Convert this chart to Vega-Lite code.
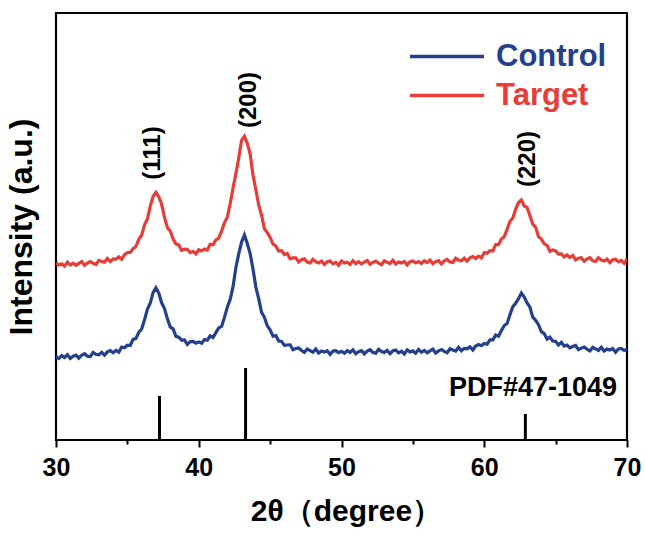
{
  "$schema": "https://vega.github.io/schema/vega-lite/v6.json",
  "width": 571,
  "height": 427,
  "autosize": {"type": "none"},
  "padding": {"left": 56, "top": 13, "right": 18, "bottom": 94},
  "background": "white",
  "config": {
    "view": {"stroke": "black", "strokeWidth": 2.2},
    "font": "Liberation Sans",
    "axis": {"grid": false}
  },
  "datasets": {
    "xrd": [
      {"x":30.0,"Control":83.4,"Target":177.0},{"x":30.2,"Control":81.5,"Target":175.1},{"x":30.4,"Control":84.4,"Target":176.1},{"x":30.6,"Control":82.6,"Target":173.9},{"x":30.8,"Control":85.3,"Target":177.8},
      {"x":31.0,"Control":81.6,"Target":175.0},{"x":31.2,"Control":83.8,"Target":176.9},{"x":31.4,"Control":84.9,"Target":174.8},{"x":31.6,"Control":81.8,"Target":176.7},{"x":31.8,"Control":84.8,"Target":178.4},
      {"x":32.0,"Control":86.3,"Target":174.7},{"x":32.2,"Control":83.8,"Target":176.9},{"x":32.4,"Control":83.4,"Target":178.5},{"x":32.6,"Control":87.6,"Target":176.7},{"x":32.8,"Control":85.7,"Target":175.5},
      {"x":33.0,"Control":85.2,"Target":179.6},{"x":33.2,"Control":87.6,"Target":178.6},{"x":33.4,"Control":84.8,"Target":177.8},{"x":33.6,"Control":88.1,"Target":181.5},{"x":33.8,"Control":89.4,"Target":178.4},
      {"x":34.0,"Control":87.3,"Target":181.0},{"x":34.2,"Control":89.6,"Target":180.8},{"x":34.4,"Control":87.8,"Target":183.2},{"x":34.6,"Control":93.0,"Target":180.7},{"x":34.8,"Control":92.3,"Target":185.3},
      {"x":35.0,"Control":94.8,"Target":187.5},{"x":35.2,"Control":94.4,"Target":187.5},{"x":35.4,"Control":100.6,"Target":191.3},{"x":35.6,"Control":101.6,"Target":193.4},{"x":35.8,"Control":107.7,"Target":200.7},
      {"x":36.0,"Control":111.0,"Target":204.7},{"x":36.2,"Control":120.1,"Target":215.1},{"x":36.4,"Control":130.7,"Target":220.9},{"x":36.6,"Control":136.7,"Target":233.6},{"x":36.8,"Control":147.3,"Target":243.5},
      {"x":37.0,"Control":152.2,"Target":247.7},{"x":37.2,"Control":146.9,"Target":243.3},{"x":37.4,"Control":137.2,"Target":235.7},{"x":37.6,"Control":131.4,"Target":222.6},{"x":37.8,"Control":121.4,"Target":212.6},
      {"x":38.0,"Control":113.1,"Target":209.0},{"x":38.2,"Control":111.2,"Target":201.1},{"x":38.4,"Control":103.6,"Target":196.1},{"x":38.6,"Control":102.8,"Target":195.1},{"x":38.8,"Control":99.9,"Target":189.6},
      {"x":39.0,"Control":100.0,"Target":190.9},{"x":39.2,"Control":95.5,"Target":190.7},{"x":39.4,"Control":98.3,"Target":187.4},{"x":39.6,"Control":98.7,"Target":188.7},{"x":39.8,"Control":96.8,"Target":186.1},
      {"x":40.0,"Control":98.1,"Target":190.2},{"x":40.2,"Control":96.8,"Target":189.0},{"x":40.4,"Control":100.4,"Target":190.9},{"x":40.6,"Control":99.8,"Target":190.0},{"x":40.8,"Control":104.1,"Target":195.7},
      {"x":41.0,"Control":102.5,"Target":195.2},{"x":41.2,"Control":107.4,"Target":200.1},{"x":41.4,"Control":112.1,"Target":201.9},{"x":41.6,"Control":113.6,"Target":208.9},{"x":41.8,"Control":122.6,"Target":217.1},
      {"x":42.0,"Control":132.8,"Target":222.9},{"x":42.2,"Control":140.5,"Target":236.2},{"x":42.4,"Control":153.1,"Target":251.7},{"x":42.6,"Control":172.3,"Target":266.3},{"x":42.8,"Control":186.1,"Target":282.0},
      {"x":43.0,"Control":197.9,"Target":299.6},{"x":43.2,"Control":204.9,"Target":303.6},{"x":43.4,"Control":196.5,"Target":296.7},{"x":43.6,"Control":186.5,"Target":286.1},{"x":43.8,"Control":171.1,"Target":265.0},
      {"x":44.0,"Control":152.9,"Target":250.3},{"x":44.2,"Control":141.1,"Target":234.9},{"x":44.4,"Control":127.7,"Target":224.8},{"x":44.6,"Control":122.7,"Target":211.2},{"x":44.8,"Control":114.2,"Target":207.4},
      {"x":45.0,"Control":110.1,"Target":202.5},{"x":45.2,"Control":103.8,"Target":196.1},{"x":45.4,"Control":104.5,"Target":193.9},{"x":45.6,"Control":98.9,"Target":189.0},{"x":45.8,"Control":98.6,"Target":189.4},
      {"x":46.0,"Control":94.6,"Target":185.5},{"x":46.2,"Control":95.0,"Target":186.5},{"x":46.4,"Control":95.2,"Target":181.2},{"x":46.6,"Control":90.3,"Target":182.2},{"x":46.8,"Control":91.5,"Target":182.2},
      {"x":47.0,"Control":92.0,"Target":178.0},{"x":47.2,"Control":89.5,"Target":180.3},{"x":47.4,"Control":87.6,"Target":181.1},{"x":47.6,"Control":91.0,"Target":177.9},{"x":47.8,"Control":89.3,"Target":177.0},
      {"x":48.0,"Control":87.8,"Target":180.6},{"x":48.2,"Control":90.9,"Target":178.2},{"x":48.4,"Control":87.0,"Target":177.1},{"x":48.6,"Control":88.9,"Target":178.9},{"x":48.8,"Control":87.9,"Target":175.5},
      {"x":49.0,"Control":89.2,"Target":178.2},{"x":49.2,"Control":85.6,"Target":178.9},{"x":49.4,"Control":88.9,"Target":176.1},{"x":49.6,"Control":89.4,"Target":177.6},{"x":49.8,"Control":87.4,"Target":174.8},
      {"x":50.0,"Control":88.7,"Target":179.0},{"x":50.2,"Control":86.7,"Target":176.9},{"x":50.4,"Control":89.4,"Target":177.8},{"x":50.6,"Control":87.6,"Target":175.6},{"x":50.8,"Control":90.1,"Target":179.4},
      {"x":51.0,"Control":86.2,"Target":176.4},{"x":51.2,"Control":88.4,"Target":178.3},{"x":51.4,"Control":89.3,"Target":176.1},{"x":51.6,"Control":86.1,"Target":177.9},{"x":51.8,"Control":88.9,"Target":179.5},
      {"x":52.0,"Control":90.3,"Target":175.7},{"x":52.2,"Control":87.5,"Target":177.7},{"x":52.4,"Control":86.9,"Target":178.9},{"x":52.6,"Control":90.7,"Target":176.9},{"x":52.8,"Control":88.5,"Target":175.4},
      {"x":53.0,"Control":87.6,"Target":179.2},{"x":53.2,"Control":89.6,"Target":177.7},{"x":53.4,"Control":86.3,"Target":176.4},{"x":53.6,"Control":89.2,"Target":179.7},{"x":53.8,"Control":89.9,"Target":176.0},
      {"x":54.0,"Control":87.2,"Target":178.0},{"x":54.2,"Control":88.7,"Target":177.1},{"x":54.4,"Control":86.0,"Target":178.6},{"x":54.6,"Control":90.1,"Target":175.1},{"x":54.8,"Control":88.1,"Target":178.4},
      {"x":55.0,"Control":89.1,"Target":179.0},{"x":55.2,"Control":86.8,"Target":177.1},{"x":55.4,"Control":90.6,"Target":178.4},{"x":55.6,"Control":87.7,"Target":176.5},{"x":55.8,"Control":89.5,"Target":179.2},
      {"x":56.0,"Control":87.3,"Target":177.4},{"x":56.2,"Control":89.2,"Target":180.0},{"x":56.4,"Control":90.8,"Target":176.2},{"x":56.6,"Control":87.0,"Target":178.4},{"x":56.8,"Control":89.1,"Target":179.3},
      {"x":57.0,"Control":90.5,"Target":176.1},{"x":57.2,"Control":88.6,"Target":179.1},{"x":57.4,"Control":87.3,"Target":180.5},{"x":57.6,"Control":91.3,"Target":177.9},{"x":57.8,"Control":90.0,"Target":177.5},
      {"x":58.0,"Control":89.0,"Target":181.7},{"x":58.2,"Control":92.6,"Target":179.8},{"x":58.4,"Control":89.2,"Target":179.2},{"x":58.6,"Control":91.6,"Target":181.7},{"x":58.8,"Control":91.1,"Target":178.8},
      {"x":59.0,"Control":93.1,"Target":182.2},{"x":59.2,"Control":90.1,"Target":183.5},{"x":59.4,"Control":94.0,"Target":181.5},{"x":59.6,"Control":95.4,"Target":183.8},{"x":59.8,"Control":94.3,"Target":182.1},
      {"x":60.0,"Control":96.6,"Target":187.4},{"x":60.2,"Control":95.9,"Target":186.7},{"x":60.4,"Control":100.1,"Target":189.3},{"x":60.6,"Control":100.1,"Target":189.0},{"x":60.8,"Control":104.9,"Target":195.3},
      {"x":61.0,"Control":103.8,"Target":195.3},{"x":61.2,"Control":109.4,"Target":200.9},{"x":61.4,"Control":114.5,"Target":203.2},{"x":61.6,"Control":116.4,"Target":210.6},{"x":61.8,"Control":125.3,"Target":218.7},
      {"x":62.0,"Control":133.3,"Target":222.0},{"x":62.2,"Control":136.8,"Target":230.9},{"x":62.4,"Control":141.2,"Target":237.5},{"x":62.6,"Control":146.9,"Target":240.1},{"x":62.8,"Control":142.9,"Target":234.0},
      {"x":63.0,"Control":137.1,"Target":232.6},{"x":63.2,"Control":132.8,"Target":224.4},{"x":63.4,"Control":122.8,"Target":215.8},{"x":63.6,"Control":119.7,"Target":212.6},{"x":63.8,"Control":115.3,"Target":203.4},
      {"x":64.0,"Control":108.4,"Target":200.9},{"x":64.2,"Control":106.4,"Target":196.2},{"x":64.4,"Control":100.9,"Target":194.7},{"x":64.6,"Control":102.9,"Target":188.7},{"x":64.8,"Control":99.0,"Target":190.1},
      {"x":65.0,"Control":98.5,"Target":189.1},{"x":65.2,"Control":95.0,"Target":185.8},{"x":65.4,"Control":97.7,"Target":186.0},{"x":65.6,"Control":94.0,"Target":183.1},{"x":65.8,"Control":95.0,"Target":185.0},
      {"x":66.0,"Control":92.2,"Target":182.5},{"x":66.2,"Control":93.5,"Target":184.5},{"x":66.4,"Control":94.5,"Target":180.1},{"x":66.6,"Control":90.3,"Target":181.8},{"x":66.8,"Control":91.9,"Target":182.2},
      {"x":67.0,"Control":93.0,"Target":178.7},{"x":67.2,"Control":90.7,"Target":181.2},{"x":67.4,"Control":89.0,"Target":182.3},{"x":67.6,"Control":92.6,"Target":179.2},{"x":67.8,"Control":91.1,"Target":178.5},
      {"x":68.0,"Control":89.6,"Target":182.2},{"x":68.2,"Control":92.8,"Target":179.9},{"x":68.4,"Control":89.0,"Target":178.9},{"x":68.6,"Control":90.9,"Target":180.8},{"x":68.8,"Control":90.0,"Target":177.4},
      {"x":69.0,"Control":91.4,"Target":180.2},{"x":69.2,"Control":87.7,"Target":180.8},{"x":69.4,"Control":91.0,"Target":178.1},{"x":69.6,"Control":91.5,"Target":179.5},{"x":69.8,"Control":89.5,"Target":176.8},
      {"x":70.0,"Control":90.7,"Target":180.9}
    ],
    "sticks": [
      {"x": 37.25, "h": 44},
      {"x": 43.28, "h": 72},
      {"x": 62.88, "h": 26}
    ],
    "peaks": [
      {"x": 36.8, "y": 287, "label": "(111)"},
      {"x": 43.55, "y": 340, "label": "(200)"},
      {"x": 63.05, "y": 281, "label": "(220)"}
    ],
    "ref": [
      {"x": 69.3, "y": 44, "label": "PDF#47-1049"}
    ]
  },
  "layer": [
    {
      "data": {"name": "xrd"},
      "transform": [{"fold": ["Control", "Target"], "as": ["series", "v"]}],
      "mark": {"type": "line", "strokeWidth": 3.2, "clip": true},
      "encoding": {
        "x": {
          "field": "x", "type": "quantitative",
          "title": "2θ（degree）",
          "scale": {"domain": [30, 70], "nice": false, "zero": false},
          "axis": {
            "title": "2θ（degree）",
            "values": [30, 35, 40, 45, 50, 55, 60, 65, 70],
            "labelExpr": "datum.value % 10 === 0 ? datum.label : ''",
            "domain": false,
            "ticks": true,
            "tickColor": "black",
            "tickWidth": 2,
            "tickSize": {"condition": {"test": "datum.value % 10 === 0", "value": 7}, "value": 4},
            "labelFont": "Liberation Sans",
            "labelFontWeight": "bold",
            "labelFontSize": 25,
            "labelColor": "black",
            "labelPadding": 8,
            "labelFlush": false,
            "labelOverlap": false,
            "labelBound": false,
            "titleFont": "Liberation Sans",
            "titleFontWeight": "bold",
            "titleFontSize": 30,
            "titleColor": "black",
            "titlePadding": 16,
            "titleX": 290
          }
        },
        "y": {
          "field": "v", "type": "quantitative",
          "title": "Intensity (a.u.)",
          "scale": {"domain": [0, 427], "nice": false, "zero": false},
          "axis": {
            "title": "Intensity (a.u.)",
            "labels": false,
            "ticks": false,
            "domain": false,
            "titleFont": "Liberation Sans",
            "titleFontWeight": "bold",
            "titleFontSize": 32,
            "titleColor": "black",
            "titlePadding": 18
          }
        },
        "color": {
          "field": "series", "type": "nominal",
          "scale": {"domain": ["Control", "Target"], "range": ["#243f8c", "#e53d38"]},
          "legend": {
            "orient": "none",
            "legendX": 405,
            "legendY": 28,
            "title": null,
            "padding": 0,
            "symbolType": "M-8.87,0H1",
            "symbolSize": 225,
            "symbolStrokeWidth": 3.5,
            "labelFont": "Liberation Sans",
            "labelFontWeight": "bold",
            "labelFontSize": 31,
            "labelOffset": 4,
            "rowPadding": 7,
            "encode": {"labels": {"update": {"fill": {"scale": "color", "field": "value"}}}}
          }
        }
      }
    },
    {
      "data": {"name": "sticks"},
      "mark": {"type": "rule", "color": "black", "strokeWidth": 3},
      "encoding": {
        "x": {"field": "x", "type": "quantitative", "title": "2θ（degree）"},
        "y": {"field": "h", "type": "quantitative", "title": "Intensity (a.u.)"},
        "y2": {"datum": 0}
      }
    },
    {
      "data": {"name": "peaks"},
      "mark": {"type": "text", "angle": 270, "align": "center", "baseline": "middle", "font": "Liberation Sans", "fontWeight": "bold", "fontSize": 24, "color": "black"},
      "encoding": {
        "x": {"field": "x", "type": "quantitative", "title": "2θ（degree）"},
        "y": {"field": "y", "type": "quantitative", "title": "Intensity (a.u.)"},
        "text": {"field": "label"}
      }
    },
    {
      "data": {"name": "ref"},
      "mark": {"type": "text", "align": "right", "baseline": "alphabetic", "font": "Liberation Sans", "fontWeight": "bold", "fontSize": 27, "color": "black"},
      "encoding": {
        "x": {"field": "x", "type": "quantitative", "title": "2θ（degree）"},
        "y": {"field": "y", "type": "quantitative", "title": "Intensity (a.u.)"},
        "text": {"field": "label"}
      }
    }
  ]
}
